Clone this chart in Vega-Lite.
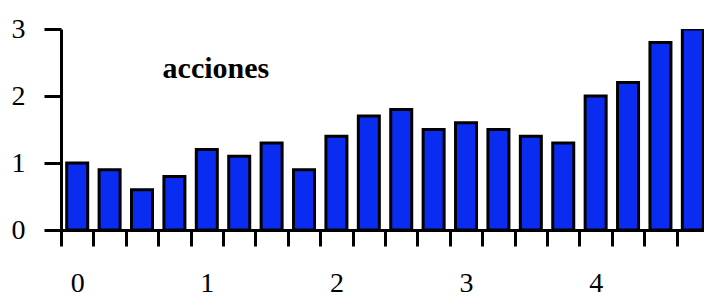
{
  "$schema": "https://vega.github.io/schema/vega-lite/v6.json",
  "autosize": {"type": "none"},
  "width": 643,
  "height": 201,
  "padding": {"left": 61, "top": 29, "right": 0, "bottom": 67},
  "background": "white",
  "config": {
    "view": {"stroke": null},
    "font": "Liberation Serif",
    "axis": {
      "grid": false,
      "domainColor": "black",
      "domainWidth": 3,
      "tickColor": "black",
      "tickWidth": 3,
      "labelFont": "Liberation Serif",
      "labelFontSize": 28,
      "labelColor": "black",
      "title": null
    }
  },
  "datasets": {
    "bars": [
      {"t": 0.0, "v": 1.0}, {"t": 0.25, "v": 0.9}, {"t": 0.5, "v": 0.6}, {"t": 0.75, "v": 0.8},
      {"t": 1.0, "v": 1.2}, {"t": 1.25, "v": 1.1}, {"t": 1.5, "v": 1.3}, {"t": 1.75, "v": 0.9},
      {"t": 2.0, "v": 1.4}, {"t": 2.25, "v": 1.7}, {"t": 2.5, "v": 1.8}, {"t": 2.75, "v": 1.5},
      {"t": 3.0, "v": 1.6}, {"t": 3.25, "v": 1.5}, {"t": 3.5, "v": 1.4}, {"t": 3.75, "v": 1.3},
      {"t": 4.0, "v": 2.0}, {"t": 4.25, "v": 2.2}, {"t": 4.5, "v": 2.8}, {"t": 4.75, "v": 3.0}
    ],
    "notes": [{"t": 1.07, "v": 2.4, "label": "acciones"}]
  },
  "layer": [
    {
      "data": {"name": "bars"},
      "mark": {"type": "bar", "size": 21, "fill": "#0a2cf0", "stroke": "black", "strokeWidth": 3, "clip": true},
      "encoding": {
        "x": {
          "field": "t", "type": "quantitative",
          "scale": {"domain": [-0.125, 4.836], "nice": false, "zero": false, "padding": 0},
          "axis": {
            "values": [0, 0.25, 0.5, 0.75, 1, 1.25, 1.5, 1.75, 2, 2.25, 2.5, 2.75, 3, 3.25, 3.5, 3.75, 4, 4.25, 4.5, 4.75],
            "tickCount": 100,
            "tickOffset": -16.2,
            "labelOffset": 16.2,
            "tickSize": 16,
            "labelPadding": 23,
            "labelExpr": "datum.value % 1 == 0 ? format(datum.value, 'd') : ''",
            "labelFlush": false,
            "labelOverlap": false
          }
        },
        "y": {
          "field": "v", "type": "quantitative",
          "scale": {"domain": [0, 3], "nice": false, "padding": 0},
          "axis": {"values": [0, 1, 2, 3], "tickCount": 10, "format": "d", "tickSize": 17, "labelPadding": 19, "labelFlush": false, "labelOverlap": false}
        }
      }
    },
    {
      "data": {"name": "notes"},
      "mark": {"type": "text", "font": "Liberation Serif", "fontWeight": "bold", "fontSize": 30, "align": "center", "baseline": "middle", "color": "black"},
      "encoding": {
        "x": {"field": "t", "type": "quantitative"},
        "y": {"field": "v", "type": "quantitative"},
        "text": {"field": "label"}
      }
    }
  ]
}
